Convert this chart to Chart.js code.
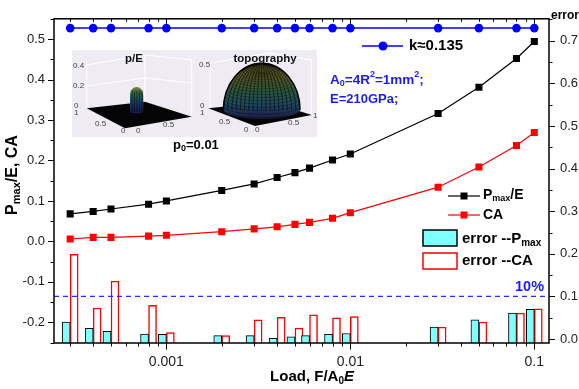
<!DOCTYPE html>
<html>
<head>
<meta charset="utf-8">
<script src="https://cdn.jsdelivr.net/npm/chart.js@4.4.1/dist/chart.umd.min.js"></script>
<style>
  html, body { margin: 0; padding: 0; background: #fff; }
  canvas { display: block; }
</style>
</head>
<body>
<canvas id="c" width="579" height="389"></canvas>
<script>
// Normalised load F/(A0*E)
const loads = [0.0003, 0.0004, 0.0005, 0.0008, 0.001, 0.002, 0.003, 0.004, 0.005, 0.006, 0.008, 0.01, 0.03, 0.05, 0.08, 0.1];
// Maximum pressure over modulus
const pmaxE = [0.068, 0.074, 0.080, 0.092, 0.100, 0.126, 0.142, 0.158, 0.170, 0.181, 0.201, 0.216, 0.316, 0.381, 0.452, 0.494];
// Contact area fraction
const contactArea = [0.006, 0.010, 0.010, 0.013, 0.015, 0.024, 0.031, 0.036, 0.042, 0.047, 0.057, 0.071, 0.134, 0.184, 0.237, 0.269];
// Fitted k per load step
const kValues = [0.527, 0.527, 0.527, 0.527, 0.527, 0.527, 0.527, 0.527, 0.527, 0.527, 0.527, 0.527, 0.527, 0.527, 0.527, 0.527];
// Relative errors (right axis)
const errPmax = [0.040, 0.025, 0.018, 0.012, 0.011, 0.008, 0.008, 0.002, 0.005, 0.008, 0.011, 0.013, 0.028, 0.045, 0.061, 0.070];
const errCA = [0.199, 0.073, 0.136, 0.079, 0.015, 0.008, 0.045, 0.051, 0.026, 0.057, 0.050, 0.053, 0.028, 0.040, 0.061, 0.071];
// 10 % error threshold
const errLimit = [0.1, 0.1];

// Axis ranges and labelled ticks
const xRange = [0.000245, 0.1202];
const yLeftRange = [-0.251, 0.550];
const yRightRange = [-0.0092, 0.7513];
const xTickValues = [0.001, 0.01, 0.1];
const xTickLabels = ['0.001', '0.01', '0.1'];
const yLeftTicks = [-0.2, -0.1, 0.0, 0.1, 0.2, 0.3, 0.4, 0.5];
const yRightTicks = [0.0, 0.1, 0.2, 0.3, 0.4, 0.5, 0.6, 0.7];

const FONT = "'Liberation Sans', Arial, Helvetica, sans-serif";
const pts = (ys) => loads.map((x, i) => ({ x: x, y: ys[i] }));

function line(ctx, x1, y1, x2, y2) {
  ctx.beginPath(); ctx.moveTo(x1, y1); ctx.lineTo(x2, y2); ctx.stroke();
}

// Draws a run of text pieces: [text, font, dy, colour]
function rich(ctx, x, y, parts, align) {
  let w = 0;
  parts.forEach(p => { ctx.font = p[1]; w += ctx.measureText(p[0]).width; });
  let cx = align === 'center' ? x - w / 2 : (align === 'right' ? x - w : x);
  ctx.textAlign = 'left';
  ctx.textBaseline = 'middle';
  parts.forEach(p => {
    ctx.font = p[1];
    ctx.fillStyle = p[3] || '#000';
    ctx.fillText(p[0], cx, y + (p[2] || 0));
    cx += ctx.measureText(p[0]).width;
  });
}

// Small 3D surface thumbnails (p/E and topography)
function drawInset(ctx) {
  ctx.save();
  ctx.fillStyle = '#efebf3';
  ctx.fillRect(72, 50, 245, 87);

  // faint box walls
  ctx.strokeStyle = '#ffffff';
  ctx.lineWidth = 1;
  [[86.7, 65, 86.7, 108], [145, 55, 145, 101], [191.7, 60, 191.7, 116],
   [86.7, 65, 145, 55], [145, 55, 191.7, 60], [86.7, 86, 145, 78], [145, 78, 191.7, 83],
   [210, 63, 210, 108], [270, 53, 270, 101], [311.7, 60, 311.7, 115],
   [210, 63, 270, 53], [270, 53, 311.7, 60]].forEach(s => line(ctx, s[0], s[1], s[2], s[3]));

  // base planes
  ctx.fillStyle = '#050505';
  ctx.beginPath();
  ctx.moveTo(86.7, 108.3); ctx.lineTo(125, 128.3); ctx.lineTo(191.7, 116.7); ctx.lineTo(145, 101.7);
  ctx.closePath(); ctx.fill();
  ctx.beginPath();
  ctx.moveTo(208.3, 108.3); ctx.lineTo(255, 126); ctx.lineTo(311.7, 115); ctx.lineTo(270, 101.7);
  ctx.closePath(); ctx.fill();

  // narrow pressure bump
  let g = ctx.createLinearGradient(0, 86, 0, 112);
  g.addColorStop(0, '#8a7a28'); g.addColorStop(0.3, '#3a7a50');
  g.addColorStop(0.6, '#22507a'); g.addColorStop(1, '#1e1e5a');
  ctx.fillStyle = g;
  ctx.beginPath();
  ctx.moveTo(130, 112);
  ctx.lineTo(130, 96);
  ctx.bezierCurveTo(130, 84, 143.3, 84, 143.3, 96);
  ctx.lineTo(143.3, 112);
  ctx.quadraticCurveTo(136.7, 114.5, 130, 112);
  ctx.fill();
  ctx.strokeStyle = 'rgba(0,0,0,0.55)';
  ctx.lineWidth = 0.8;
  for (let yy = 91; yy < 112; yy += 2) line(ctx, 130.5, yy, 143, yy);
  for (let xx = 132; xx < 143; xx += 2.5) line(ctx, xx, 92, xx, 112);

  // hemispherical topography
  const cx = 261.7, cy = 110, rx = 38.3;
  g = ctx.createLinearGradient(0, 63, 0, 120);
  g.addColorStop(0, '#4a4620'); g.addColorStop(0.25, '#5a5a28');
  g.addColorStop(0.5, '#2c5a40'); g.addColorStop(0.72, '#1f4a62');
  g.addColorStop(1, '#1a1640');
  ctx.fillStyle = g;
  ctx.beginPath();
  ctx.ellipse(cx, cy, rx, 46.7, 0, Math.PI, 0, false);
  ctx.ellipse(cx, cy, rx, 9, 0, 0, Math.PI, false);
  ctx.closePath();
  ctx.fill();
  ctx.save();
  ctx.clip();
  ctx.strokeStyle = 'rgba(0,0,0,0.55)';
  ctx.lineWidth = 0.6;
  for (let k = 1; k < 22; k++) {
    const t = k / 22;
    const yy = cy - 46.7 * Math.cos(t * Math.PI / 2) + 6;
    ctx.beginPath();
    ctx.ellipse(cx, yy, rx * Math.sin(t * Math.PI / 2) + 1, 3 + 6 * t, 0, 0, Math.PI, false);
    ctx.stroke();
  }
  for (let k = -9; k <= 9; k++) {
    ctx.beginPath();
    ctx.ellipse(cx, cy, Math.abs(k) * rx / 9 + 0.1, 46.7, 0, Math.PI, 0, false);
    ctx.stroke();
  }
  ctx.restore();
  ctx.strokeStyle = '#000';
  ctx.lineWidth = 1.5;
  ctx.beginPath();
  ctx.ellipse(cx, cy, rx, 46.7, 0, Math.PI, 0, false);
  ctx.stroke();

  // thumbnail axis numbers
  ctx.fillStyle = '#444';
  ctx.font = '8px ' + FONT;
  ctx.textBaseline = 'middle';
  ctx.textAlign = 'left';
  [['0.4', 73, 66], ['0.2', 73, 86], ['0', 74, 106], ['1', 74, 113], ['0.5', 95, 124],
   ['0', 121, 131], ['0', 136, 131], ['0.5', 163, 125],
   ['0.5', 199, 65], ['0', 200, 106], ['1', 200, 113], ['0.5', 219, 122],
   ['0', 244, 130], ['0', 255, 130], ['0.5', 288, 123], ['1', 313, 116]]
    .forEach(t => ctx.fillText(t[0], t[1], t[2]));

  ctx.textAlign = 'center';
  ctx.fillStyle = '#111';
  ctx.font = 'bold 11.5px ' + FONT;
  ctx.fillText('p/E', 134, 59);
  ctx.fillText('topography', 265, 59);
  ctx.restore();
}

const decor = {
  id: 'decor',
  beforeDatasetsDraw(chart) {
    drawInset(chart.ctx);
  },
  afterDraw(chart) {
    const ctx = chart.ctx;
    const { left, right, top, bottom } = chart.chartArea;
    const xs = chart.scales.x, yl = chart.scales.y, yr = chart.scales.y1;
    ctx.save();

    // frame
    ctx.strokeStyle = '#000';
    ctx.lineWidth = 1.5;
    ctx.strokeRect(left, top, right - left, bottom - top);

    // tick marks
    ctx.lineWidth = 1;
    for (let e = -4; e <= -1; e++) {
      for (let m = 1; m <= 9; m++) {
        const v = m * Math.pow(10, e);
        if (v < xs.min || v > xs.max) continue;
        const px = Math.round(xs.getPixelForValue(v)) + 0.5;
        const L = m === 1 ? 6.5 : 3.5;
        line(ctx, px, bottom, px, bottom + L);
        line(ctx, px, top, px, top + (m === 1 ? 5 : 3));
      }
    }
    for (let i = -5; i <= 11; i++) {
      const v = i * 0.05;
      if (v < yl.min || v > yl.max) continue;
      const py = Math.round(yl.getPixelForValue(v)) + 0.5;
      line(ctx, left - (i % 2 === 0 ? 6 : 3.5), py, left, py);
    }
    for (let i = 0; i <= 15; i++) {
      const v = i * 0.05;
      if (v < yr.min || v > yr.max) continue;
      const py = Math.round(yr.getPixelForValue(v)) + 0.5;
      line(ctx, right, py, right + (i % 2 === 0 ? 6 : 3.5), py);
    }

    // axis titles
    const B = (s) => 'bold ' + s + 'px ' + FONT;
    ctx.save();
    ctx.translate(13, 175);
    ctx.rotate(-Math.PI / 2);
    rich(ctx, 0, 0, [['P', B(16)], ['max', B(11), 4], ['/E, CA', B(16)]], 'center');
    ctx.restore();
    rich(ctx, 312, 377, [['Load, F/A', B(15)], ['0', B(10), 4], ['E', 'italic bold 15px ' + FONT]], 'center');
    rich(ctx, 551, 16, [['error', B(12)]], 'left');

    // k legend
    ctx.strokeStyle = '#0000ff';
    ctx.fillStyle = '#0000ff';
    ctx.lineWidth = 1.5;
    line(ctx, 362, 46, 403, 46);
    ctx.beginPath(); ctx.arc(383, 46, 4.5, 0, Math.PI * 2); ctx.fill();
    rich(ctx, 409, 46, [['k\u22480.135', B(15)]], 'left');

    // notes
    const blue = '#1a1aff';
    rich(ctx, 330, 80, [['A', B(13.5), 0, blue], ['0', B(9), 4, blue], ['=4R', B(13.5), 0, blue],
      ['2', B(9), -5, blue], ['=1mm', B(13.5), 0, blue], ['2', B(9), -5, blue], [';', B(13.5), 0, blue]], 'left');
    rich(ctx, 330, 99, [['E=210GPa;', B(13), 0, blue]], 'left');
    rich(ctx, 173, 145, [['p', B(13)], ['0', B(9), 4], ['=0.01', B(13)]], 'left');
    rich(ctx, 515, 287, [['10%', B(14.5), 0, blue]], 'left');

    // series legend
    ctx.lineWidth = 1.2;
    ctx.strokeStyle = '#000'; ctx.fillStyle = '#000';
    line(ctx, 448, 196, 480, 196);
    ctx.fillRect(460.5, 192.5, 7, 7);
    rich(ctx, 483, 195, [['P', B(14)], ['max', B(9), 4], ['/E', B(14)]], 'left');
    ctx.strokeStyle = '#ff0000'; ctx.fillStyle = '#ff0000';
    line(ctx, 448, 215, 480, 215);
    ctx.fillRect(460.5, 211.5, 7, 7);
    rich(ctx, 483, 215, [['CA', B(14)]], 'left');

    ctx.lineWidth = 1.5;
    ctx.fillStyle = '#80ffff'; ctx.strokeStyle = '#000';
    ctx.fillRect(423, 230, 34, 16); ctx.strokeRect(423, 230, 34, 16);
    rich(ctx, 462, 239, [['error --P', B(15)], ['max', B(10), 4]], 'left');
    ctx.fillStyle = '#fff'; ctx.strokeStyle = '#ff0000';
    ctx.fillRect(423, 253, 34, 16); ctx.strokeRect(423, 253, 34, 16);
    rich(ctx, 462, 261, [['error --CA', B(15)]], 'left');

    ctx.restore();
  }
};

const tickFont = { family: FONT, size: 13 };

new Chart(document.getElementById('c'), {
  type: 'bar',
  data: {
    datasets: [
      {
        type: 'line', label: 'k', data: pts(kValues), yAxisID: 'y',
        borderColor: '#0000ff', backgroundColor: '#0000ff', borderWidth: 1.5,
        pointStyle: 'circle', pointRadius: 4.3, pointBorderWidth: 0, order: 1
      },
      {
        type: 'line', label: 'Pmax/E', data: pts(pmaxE), yAxisID: 'y',
        borderColor: '#000', backgroundColor: '#000', borderWidth: 1.2,
        pointStyle: 'rect', pointRadius: 5, pointBorderWidth: 0, order: 1
      },
      {
        type: 'line', label: 'CA', data: pts(contactArea), yAxisID: 'y',
        borderColor: '#ff0000', backgroundColor: '#ff0000', borderWidth: 1.2,
        pointStyle: 'rect', pointRadius: 5, pointBorderWidth: 0, order: 1
      },
      {
        type: 'line', label: '10%', data: [{ x: xRange[0], y: errLimit[0] }, { x: xRange[1], y: errLimit[1] }],
        yAxisID: 'y1', borderColor: '#2a2aff', borderWidth: 1.2, borderDash: [5, 4],
        pointRadius: 0, order: 0
      },
      {
        type: 'bar', label: 'error --Pmax', data: pts(errPmax), yAxisID: 'y1',
        backgroundColor: '#80ffff', borderColor: '#000', borderWidth: 1,
        barThickness: 8, base: yRightRange[0], order: 5
      },
      {
        type: 'bar', label: 'error --CA', data: pts(errCA), yAxisID: 'y1',
        backgroundColor: '#ffffff', borderColor: '#ff0000', borderWidth: 1.5,
        barThickness: 8, base: yRightRange[0], order: 5
      }
    ]
  },
  options: {
    responsive: false,
    animation: false,
    devicePixelRatio: 1,
    layout: { padding: { top: 12, left: 0, right: 0, bottom: 0 } },
    plugins: { legend: { display: false }, tooltip: { enabled: false } },
    scales: {
      x: {
        type: 'logarithmic', position: 'bottom', offset: false,
        min: xRange[0], max: xRange[1],
        grid: { display: false, drawTicks: false }, border: { display: false },
        ticks: {
          font: { family: FONT, size: 14 }, color: '#222', padding: 11,
          autoSkip: false, maxRotation: 0,
          callback: (v) => { const i = xTickValues.indexOf(v); return i >= 0 ? xTickLabels[i] : ''; }
        },
        afterBuildTicks: (s) => { s.ticks = xTickValues.map(v => ({ value: v })); },
        afterFit: (s) => { s.height = 46; }
      },
      y: {
        type: 'linear', position: 'left',
        min: yLeftRange[0], max: yLeftRange[1],
        grid: { display: false, drawTicks: false }, border: { display: false },
        ticks: { font: tickFont, color: '#222', padding: 9, callback: (v) => Number(v).toFixed(1) },
        afterBuildTicks: (s) => { s.ticks = yLeftTicks.map(v => ({ value: v })); },
        afterFit: (s) => { s.width = 54; }
      },
      y1: {
        type: 'linear', position: 'right',
        min: yRightRange[0], max: yRightRange[1],
        grid: { display: false, drawTicks: false }, border: { display: false },
        ticks: { font: tickFont, color: '#222', padding: 11, callback: (v) => Number(v).toFixed(1) },
        afterBuildTicks: (s) => { s.ticks = yRightTicks.map(v => ({ value: v })); },
        afterFit: (s) => { s.width = 30; }
      }
    }
  },
  plugins: [decor]
});
</script>
</body>
</html>
